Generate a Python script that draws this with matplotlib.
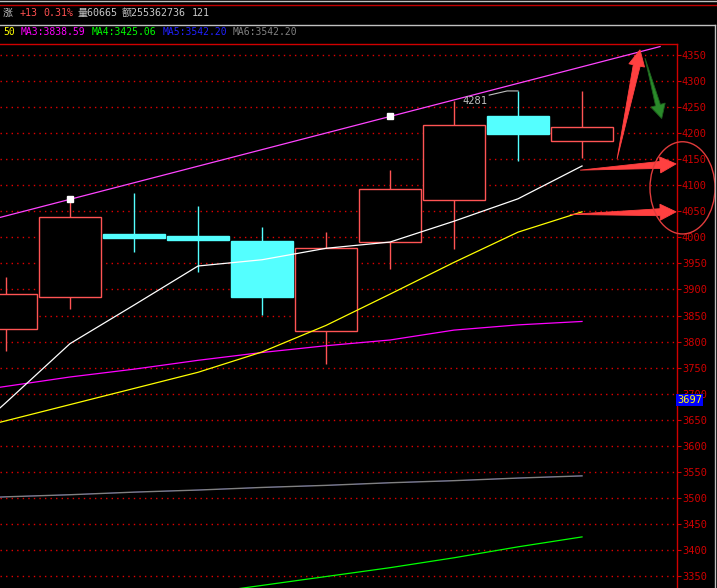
import numpy as np
import matplotlib
matplotlib.use('Agg')
import matplotlib.pyplot as plt
import matplotlib.transforms as mtransforms
from matplotlib.patches import Polygon, Ellipse
from matplotlib.lines import Line2D
from matplotlib.ticker import MultipleLocator

# candles (index 0..9)
idx = np.arange(10)
opens = [3824, 3886, 4006, 4003, 3993, 3820, 3992, 4071, 4233, 4184]
closes = [3891, 4040, 3999, 3995, 3886, 3979, 4093, 4215, 4199, 4211]
highs = [3923, 4072, 4085, 4060, 4020, 4010, 4129, 4262, 4281, 4281]
lows = [3782, 3863, 3972, 3934, 3851, 3757, 3940, 3978, 4147, 4152]

# moving averages, index -1..9
ma_idx = np.arange(-1, 10)
ma1 = [3573, 3683, 3796, 3870, 3945, 3957, 3979, 3991, 4031, 4074, 4137]
ma2 = [3617, 3648, 3679, 3710, 3741, 3780, 3831, 3891, 3952, 4010, 4049]
ma3 = [3696, 3714, 3732, 3747, 3764, 3779, 3792, 3803, 3822, 3832, 3838.59]
ma4 = [3253, 3268, 3283, 3299, 3315, 3332, 3349, 3366, 3385, 3406, 3425.06]
ma5 = [3497, 3502, 3506, 3511, 3515, 3520, 3524, 3529, 3533, 3538, 3542.20]
ma6 = [3497, 3502, 3506, 3511, 3515, 3520, 3524, 3529, 3533, 3538, 3542.20]

# hand drawn trend line: two anchor points, extended
trend_pts = [(1, 4073), (6, 4232)]
trend_ext = (-1, 10.22)

header1 = [("涨", 3, '#c8c8c8'), ("+13", 20, '#ff5050'), ("0.31%", 43, '#ff5050'),
           ("量60665", 78, '#c8c8c8'), ("额255362736", 122, '#c8c8c8'), ("121", 192, '#c8c8c8')]
header2 = [("50", 3, '#ffff00'), ("MA3:3838.59", 21, '#ff00ff'), ("MA4:3425.06", 92, '#00ff00'),
           ("MA5:3542.20", 163, '#2020ff'), ("MA6:3542.20", 233, '#808080')]

UP = '#ff5454'
DOWN = '#54ffff'
AXRED = '#d00000'
MONO = ['DejaVu Sans Mono', 'Noto Sans CJK SC']

W, H = 717, 588
fig = plt.figure(figsize=(W / 100, H / 100), dpi=100, facecolor='black')
ax = fig.add_axes([0, 0, 677 / W, 544 / H], facecolor='black')
ax.set_xlim(-0.094, 10.484)
ax.set_ylim(3327.0, 4371.1)

# frame
for s in ['left', 'bottom']:
    ax.spines[s].set_visible(False)
for s in ['top', 'right']:
    ax.spines[s].set_color(AXRED)
    ax.spines[s].set_linewidth(1.0)
ax.set_xticks([])
ax.yaxis.tick_right()
ax.yaxis.set_major_locator(MultipleLocator(50))
ax.tick_params(axis='y', direction='out', length=3, width=0.8, color=AXRED,
               labelcolor=AXRED, labelsize=7.5, pad=0.5, labelfontfamily='DejaVu Sans Mono')
ax.grid(axis='y', color='#e00000', linestyle=(0, (1, 3)), linewidth=1.0)

# candles
for i in idx:
    up = closes[i] >= opens[i]
    col = UP if up else DOWN
    ax.vlines(i, lows[i], highs[i], color=col, lw=1.0, zorder=2)
lo = np.minimum(opens, closes)
hgt = np.abs(np.array(closes) - np.array(opens))
face = ['black' if c >= o else DOWN for o, c in zip(opens, closes)]
edge = [UP if c >= o else DOWN for o, c in zip(opens, closes)]
ax.bar(idx, hgt, bottom=lo, width=0.97, color=face, edgecolor=edge, linewidth=1.0, zorder=3)

# moving averages
ax.plot(ma_idx, ma5, color='#0000ff', lw=0.4, zorder=4)
ax.plot(ma_idx, ma6, color='#808080', lw=1.0, zorder=4)
ax.plot(ma_idx, ma4, color='#00ff00', lw=0.9, zorder=4)
ax.plot(ma_idx, ma3, color='#ff00ff', lw=0.9, zorder=4)
ax.plot(ma_idx, ma2, color='#ffff00', lw=0.9, zorder=4)
ax.plot(ma_idx, ma1, color='#ffffff', lw=0.9, zorder=4)

# trend line
(x1, y1), (x2, y2) = trend_pts
slope = (y2 - y1) / (x2 - x1)
tx = np.array(trend_ext)
ax.plot(tx, y1 + slope * (tx - x1), color='#ff44ff', lw=0.9, zorder=4, clip_on=False)
ax.plot([x1, x2], [y1, y2], 's', color='white', ms=4.5, zorder=5)

# high label
ax.text(7.52, 4262, "4281", color='#c0c0c0', fontsize=7.5, family='DejaVu Sans Mono',
        ha='right', va='center', zorder=6)
ax.plot([7.55, 7.83, 8.0], [4273, 4281, highs[8]], color='#c0c0c0', lw=0.8, zorder=6)

# current price tag
blend = mtransforms.blended_transform_factory(ax.transAxes, ax.transData)
ax.text(1.0, 3697, "3697", transform=blend, color='#ffff00', fontsize=7.5,
        family='DejaVu Sans Mono', ha='left', va='top', zorder=7,
        bbox=dict(boxstyle='square,pad=0.12', fc='#0000ff', ec='none'))


def arrow(tail, tip, shaft_w, head_w, head_len, color, ec=None):
    p0 = ax.transData.transform(tail)
    p1 = ax.transData.transform(tip)
    d = (p1 - p0) / np.hypot(*(p1 - p0))
    n = np.array([-d[1], d[0]])
    base = p1 - d * head_len
    pts = [p0, base + n * shaft_w / 2, base + n * head_w / 2, p1,
           base - n * head_w / 2, base - n * shaft_w / 2]
    pts = ax.transData.inverted().transform(np.array(pts))
    ax.add_patch(Polygon(pts, closed=True, fc=color, ec=ec or color, lw=0.6,
                         zorder=8, clip_on=False))


arrow((9.547, 4150), (9.906, 4360), 7, 16, 16, '#ff4040')
arrow((9.984, 4344), (10.245, 4228), 5, 15, 14, '#2a8a2a', '#1d5e1d')
arrow((8.97, 4129), (10.47, 4141), 7, 16, 16, '#ff4040')
arrow((8.81, 4044), (10.47, 4049), 7, 16, 16, '#ff4040')
ax.add_patch(Ellipse((10.57, 4095), 1.016, 177, fill=False, ec='#e03c3c', lw=1.0,
                     zorder=8, clip_on=False))

# header rows and outer frame (figure pixels)
def fx(px):
    return px / W


def fy(py):
    return 1 - py / H


for txt, x, c in header1:
    fig.text(fx(x), fy(13), txt, color=c, fontsize=7.2, family=MONO, ha='left', va='center')
for txt, x, c in header2:
    fig.text(fx(x), fy(32), txt, color=c, fontsize=7, family=MONO, ha='left', va='center')

fig.add_artist(Line2D([0, 1], [fy(1), fy(1)], color='#c0c0c0', lw=1.0))
fig.add_artist(Line2D([0, 1], [fy(5), fy(5)], color='#c00000', lw=1.0))
fig.add_artist(Line2D([0, fx(715)], [fy(25), fy(25)], color='#c0c0c0', lw=1.0))
fig.add_artist(Line2D([fx(715), fx(715)], [fy(25), 0], color='#c0c0c0', lw=1.0))

fig.savefig('out.png', dpi=100, facecolor='black')
